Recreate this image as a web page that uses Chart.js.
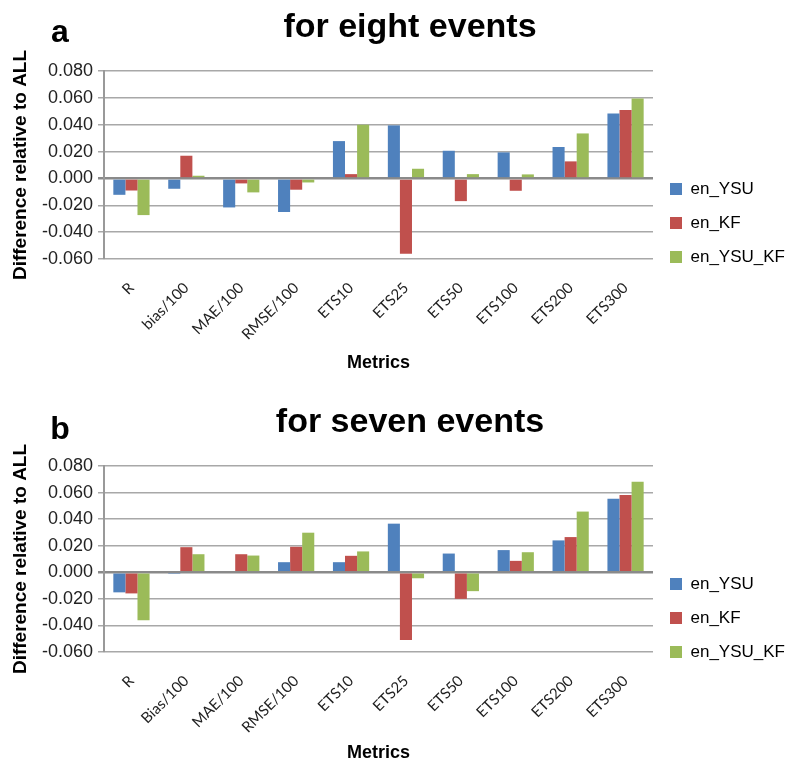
<!DOCTYPE html>
<html>
<head>
<meta charset="utf-8">
<script src="https://cdn.jsdelivr.net/npm/chart.js@4/dist/chart.umd.min.js"></script>
<style>
  body { margin: 0; background: #fff; overflow: hidden; }
  canvas { position: absolute; left: 0; }
  #chartA { top: 0; }
  #chartB { top: 385px; }
</style>
</head>
<body>
<canvas id="chartA" width="792" height="385"></canvas>
<canvas id="chartB" width="792" height="395"></canvas>
<script>
// Data

const labelsA = ['R', 'bias/100', 'MAE/100', 'RMSE/100', 'ETS10', 'ETS25', 'ETS50', 'ETS100', 'ETS200', 'ETS300'];
const labelsB = ['R', 'Bias/100', 'MAE/100', 'RMSE/100', 'ETS10', 'ETS25', 'ETS50', 'ETS100', 'ETS200', 'ETS300'];
const seriesNames = ['en_YSU', 'en_KF', 'en_YSU_KF'];

const ysuA   = [-0.0122, -0.0077, -0.0216, -0.0250, 0.0278, 0.0395, 0.0206, 0.0194, 0.0234, 0.0484];
const kfA    = [-0.0090, 0.0169, -0.0037, -0.0084, 0.0032, -0.0560, -0.0169, -0.0092, 0.0127, 0.0510];
const ysuKfA = [-0.0273, 0.0020, -0.0104, -0.0030, 0.0400, 0.0072, 0.0032, 0.0030, 0.0335, 0.0596];

const ysuB   = [-0.0151, -0.0013, 0.0000, 0.0076, 0.0076, 0.0366, 0.0141, 0.0167, 0.0240, 0.0553];
const kfB    = [-0.0159, 0.0189, 0.0136, 0.0192, 0.0124, -0.0510, -0.0200, 0.0086, 0.0265, 0.0581];
const ysuKfB = [-0.0361, 0.0136, 0.0126, 0.0298, 0.0157, -0.0045, -0.0142, 0.0151, 0.0457, 0.0682];

const yTicks = [-0.06, -0.04, -0.02, 0, 0.02, 0.04, 0.06, 0.08];

// Settings

const colors = ['#4F81BD', '#C0504D', '#9BBB59'];
const font = 'Arial, "Liberation Sans", sans-serif';

// Panel letter and big title
const panelText = {
  id: 'panelText',
  afterDraw(chart, args, opts) {
    const ctx = chart.ctx;
    ctx.save();
    ctx.fillStyle = '#000';
    ctx.textBaseline = 'alphabetic';
    ctx.font = 'bold 32px ' + font;
    ctx.textAlign = 'center';
    ctx.fillText(opts.letter, 60, opts.letterY);
    ctx.font = 'bold 34px ' + font;
    ctx.fillText(opts.title, 410, opts.titleY);
    ctx.restore();
  }
};

function makeChart(id, labels, values, p) {
  const ctx = document.getElementById(id).getContext('2d');
  return new Chart(ctx, {
    type: 'bar',
    data: {
      labels: labels,
      datasets: values.map(function(v, i) {
        return {
          label: seriesNames[i],
          data: v,
          backgroundColor: colors[i],
          borderWidth: 0,
          barPercentage: 1,
          categoryPercentage: 0.66,
        };
      })
    },
    options: {
      responsive: false,
      animation: false,
      layout: { padding: { left: 8, right: 0, top: p.top, bottom: p.bottom } },
      plugins: {
        legend: {
          position: 'right',
          maxWidth: 139,
          labels: {
            boxWidth: 12,
            boxHeight: 12,
            padding: 17,
            color: '#000',
            font: { family: font, size: 17 },
          }
        },
        tooltip: { enabled: false },
        panelText: { letter: p.letter, title: p.title, letterY: p.letterY, titleY: p.titleY },
      },
      scales: {
        x: {
          grid: { display: false, drawTicks: false },
          border: { display: false },
          ticks: {
            minRotation: 45,
            maxRotation: 45,
            padding: 20,
            color: '#222',
            font: { family: 'Lato, "Open Sans", sans-serif', size: 15 },
          },
          title: {
            display: true,
            text: 'Metrics',
            color: '#000',
            padding: { top: 0, bottom: p.xTitlePad },
            font: { family: font, size: 18, weight: 'bold' },
          },
          afterFit: function(scale) { scale.height = p.xHeight; }
        },
        y: {
          min: -0.06,
          max: 0.08,
          afterBuildTicks: function(scale) {
            scale.ticks = yTicks.map(function(v) { return { value: v }; });
          },
          grid: {
            color: function(c) { return c.tick && c.tick.value === 0 ? '#8a8a8a' : '#a8a8a8'; },
            lineWidth: function(c) { return c.tick && c.tick.value === 0 ? 2.5 : 1.5; },
            tickLength: 6,
          },
          border: { display: true, color: '#999', width: 2 },
          ticks: {
            padding: 5,
            color: '#222',
            font: { family: font, size: 18 },
            callback: function(v) { return Number(v).toFixed(3); }
          },
          title: {
            display: true,
            text: 'Difference relative to ALL',
            color: '#000',
            padding: { top: 1, bottom: 0 },
            font: { family: font, size: 19, weight: 'bold' },
          },
          afterFit: function(scale) { scale.width = 96; }
        }
      }
    },
    plugins: [panelText]
  });
}

makeChart('chartA', labelsA, [ysuA, kfA, ysuKfA], {
  top: 71, bottom: 10, xHeight: 116, xTitlePad: 1,
  letter: 'a', title: 'for eight events', letterY: 42, titleY: 37,
});

makeChart('chartB', labelsB, [ysuB, kfB, ysuKfB], {
  top: 81, bottom: 10, xHeight: 118, xTitlePad: 6,
  letter: 'b', title: 'for seven events', letterY: 54, titleY: 47,
});
</script>
</body>
</html>
